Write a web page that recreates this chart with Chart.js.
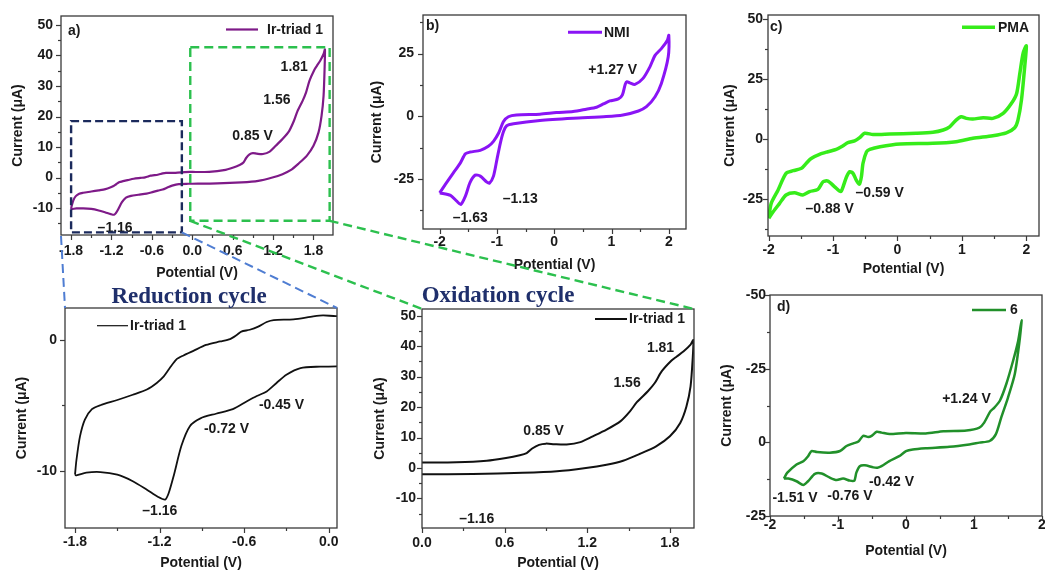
<!DOCTYPE html>
<html>
<head>
<meta charset="utf-8">
<script src="https://cdn.jsdelivr.net/npm/chart.js@4.4.1/dist/chart.umd.min.js"></script>
<style>
  html, body { margin: 0; padding: 0; background: #ffffff; overflow: hidden; width: 1045px; height: 570px; }
  canvas.panel { position: absolute; }
  #overlay { position: absolute; left: 0; top: 0; pointer-events: none; }
</style>
</head>
<body>
<canvas id="overlay" width="1045" height="570"></canvas>
<script>
const SANS = '"Liberation Sans", Arial, Helvetica, sans-serif';
const SERIF = '"Liberation Serif", "Times New Roman", serif';
const INK = '#1a1a1a';

// ---- Ir-triad 1: one full cyclic sweep (anodic branch, then cathodic return) ----
const irPotential = [
  -1.80, -1.79, -1.765, -1.73, -1.68, -1.62, -1.50, -1.39, -1.29, -1.22, -1.17, -1.13, -1.08, -1.03,
  -0.96, -0.87, -0.77, -0.70, -0.65, -0.62, -0.56, -0.50, -0.44, -0.39, -0.25, -0.11, -0.04, 0.05,
  0.25, 0.47, 0.61, 0.71, 0.76, 0.80, 0.85, 0.90, 0.96, 1.05, 1.15, 1.24, 1.34, 1.44, 1.51, 1.56,
  1.64, 1.69, 1.74, 1.81, 1.85, 1.90, 1.95, 1.97,
  1.965, 1.95, 1.92, 1.875, 1.80, 1.70, 1.58, 1.46, 1.34, 1.19, 0.98, 0.73, 0.37, 0.00, -0.06,
  -0.20, -0.30, -0.37, -0.44, -0.51, -0.58, -0.68, -0.80, -0.91, -0.985, -1.045, -1.10, -1.135,
  -1.16, -1.21, -1.29, -1.39, -1.50, -1.62, -1.72, -1.79, -1.80
];
const irCurrent = [
  -10.3, -9.2, -7.4, -6.1, -5.3, -5.0, -4.6, -4.2, -3.8, -3.3, -2.8, -2.2, -1.5, -1.2,
  -0.85, -0.4, -0.13, 0.05, 0.38, 0.62, 0.76, 1.0, 1.35, 1.5, 1.55, 1.78, 1.86, 1.8,
  1.86, 2.4, 3.3, 4.2, 4.9, 6.4, 7.6, 8.0, 7.8, 7.7, 8.5, 10.4, 12.6, 15.3, 18.6, 21.6,
  25.2, 27.9, 31.7, 35.2, 36.6, 38.3, 40.5, 42.0,
  35.6, 26.8, 20.2, 14.8, 10.4, 7.1, 4.6, 2.4, 1.1, 0.0, -1.1, -1.6, -1.95, -2.05, -2.05,
  -2.16, -2.67, -3.3, -3.95, -4.3, -4.7, -5.3, -5.65, -6.0, -6.6, -8.1, -10.4, -11.7,
  -12.2, -12.0, -11.45, -10.8, -10.3, -10.1, -10.15, -10.35, -10.3
];

// ---- NMI ----
const nmiPotential = [
  -2.00, -1.99, -1.90, -1.76, -1.64, -1.55, -1.47, -1.29, -1.15, -1.06, -0.97, -0.885, -0.80, -0.66,
  -0.25, 0.04, 0.33, 0.56, 0.74, 0.86, 0.97, 1.12, 1.19, 1.24, 1.27, 1.32, 1.41, 1.55, 1.67, 1.76,
  1.87, 1.975, 2.00,
  1.99, 1.87, 1.76, 1.61, 1.47, 1.20, 0.91, 0.33, -0.25, -0.71, -0.83, -0.885, -0.94, -1.00, -1.06,
  -1.13, -1.175, -1.29, -1.38, -1.47, -1.55, -1.63, -1.70, -1.81, -1.99, -2.00
];
const nmiCurrent = [
  -30.6, -30.3, -27.2, -22.6, -18.7, -15.0, -14.3, -13.6, -12.0, -10.0, -6.7, -2.1, -0.2, 0.5,
  0.8, 1.45, 1.85, 2.8, 3.6, 4.9, 6.1, 6.9, 8.5, 12.8, 13.8, 13.3, 12.7, 15.1, 19.7, 24.3,
  27.0, 30.3, 32.3,
  23.7, 13.1, 7.8, 3.8, 2.1, 0.5, -0.13, -0.8, -1.7, -3.0, -3.8, -6.1, -10.7, -17.3, -23.9,
  -26.7, -26.3, -23.9, -23.5, -26.5, -31.9, -35.2, -33.9, -31.6, -30.6, -30.6
];

// ---- PMA ----
const pmaPotential = [
  -2.00, -1.96, -1.855, -1.73, -1.62, -1.49, -1.415, -1.34, -1.21, -1.08, -0.95, -0.85, -0.77, -0.665,
  -0.587, -0.51, -0.38, -0.12, 0.29, 0.55, 0.71, 0.81, 0.91, 0.99, 1.07, 1.17, 1.33, 1.48, 1.64, 1.77,
  1.85, 1.90, 1.95, 2.00,
  1.975, 1.925, 1.87, 1.82, 1.69, 1.48, 1.17, 0.91, 0.55, 0.04, -0.27, -0.43, -0.48, -0.535, -0.56,
  -0.59, -0.64, -0.69, -0.74, -0.79, -0.845, -0.88, -0.975, -1.08, -1.155, -1.235, -1.365, -1.47,
  -1.60, -1.73, -1.83, -1.93, -2.00
];
const pmaCurrent = [
  -33.0, -26.8, -21.3, -14.3, -13.2, -12.2, -10.1, -8.1, -6.4, -5.3, -4.3, -2.9, -1.5, -0.8,
  0.55, 2.4, 1.9, 2.1, 2.4, 2.8, 3.75, 5.1, 7.9, 9.3, 8.6, 8.3, 8.9, 8.6, 10.7, 14.9,
  19.0, 27.4, 35.7, 38.8,
  30.1, 16.3, 7.9, 4.7, 2.6, 1.4, 0.3, -1.1, -1.8, -2.1, -3.2, -4.3, -5.3, -10.1, -15.7,
  -18.8, -17.1, -14.3, -13.6, -15.7, -19.9, -21.9, -19.9, -17.5, -17.8, -21.0, -21.9, -23.3,
  -22.4, -23.3, -26.8, -30.3, -33.0
];

// ---- compound 6 ----
const cpd6Potential = [
  -1.795, -1.745, -1.61, -1.51, -1.44, -1.39, -1.31, -1.12, -0.97, -0.875, -0.775, -0.70, -0.63, -0.555,
  -0.505, -0.43, -0.36, -0.24, 0.00, 0.29, 0.55, 0.89, 1.08, 1.15, 1.24, 1.30, 1.38, 1.475, 1.575,
  1.65, 1.70,
  1.67, 1.60, 1.50, 1.40, 1.32, 1.23, 1.08, 0.93, 0.64, 0.29, 0.10, 0.00, -0.10, -0.245, -0.36,
  -0.42, -0.48, -0.605, -0.68, -0.73, -0.76, -0.825, -0.925, -1.02, -1.12, -1.24, -1.34, -1.44,
  -1.51, -1.61, -1.73, -1.795
];
const cpd6Current = [
  -12.3, -10.3, -7.5, -6.4, -4.7, -2.95, -3.3, -3.5, -2.95, -1.25, -0.35, 0.25, 2.2, 1.8,
  2.2, 3.6, 3.3, 2.8, 3.2, 3.0, 3.75, 4.0, 5.0, 6.7, 10.5, 11.8, 14.1, 19.8, 27.7,
  34.5, 41.4,
  34.5, 23.2, 15.2, 8.4, 2.7, 0.45, -0.1, -0.7, -1.5, -2.0, -2.4, -3.0, -4.7, -6.4, -8.1,
  -8.6, -8.5, -7.8, -8.1, -10.3, -13.0, -13.0, -12.3, -12.8, -12.0, -10.6, -10.7, -13.2,
  -14.5, -13.2, -12.3, -12.3
];

// ---- axis ticks and their labels ----
const aXTicks = [-1.8, -1.2, -0.6, 0, 0.6, 1.2, 1.8];
const aXLabels = ['-1.8', '-1.2', '-0.6', '0.0', '0.6', '1.2', '1.8'];
const aYTicks = [50, 40, 30, 20, 10, 0, -10];
const aYLabels = ['50', '40', '30', '20', '10', '0', '-10'];
const wideXTicks = [-2, -1, 0, 1, 2];
const wideXLabels = ['-2', '-1', '0', '1', '2'];
const bYTicks = [25, 0, -25];
const bYLabels = ['25', '0', '-25'];
const cYTicks = [50, 25, 0, -25];
const cYLabels = ['50', '25', '0', '-25'];
const dYTicks = [50, 25, 0, -25];
const dYLabels = ['-50', '-25', '0', '-25'];
const redXTicks = [-1.8, -1.2, -0.6, 0];
const redXLabels = ['-1.8', '-1.2', '-0.6', '0.0'];
const redYTicks = [0, -10];
const redYLabels = ['0', '-10'];
const oxXTicks = [0, 0.6, 1.2, 1.8];
const oxXLabels = ['0.0', '0.6', '1.2', '1.8'];
const oxYTicks = [50, 40, 30, 20, 10, 0, -10];
const oxYLabels = ['50', '40', '30', '20', '10', '0', '-10'];

const toPoints = (xs, ys) => xs.map((x, i) => ({ x, y: ys[i] }));

// frame, tick marks, panel letter, legend and peak labels for one panel
function makeDecor(spec) {
  return {
    id: 'panelDecor',
    afterDatasetsDraw(chart) {
      const { ctx, chartArea: a, scales: { x, y } } = chart;
      ctx.save();
      ctx.strokeStyle = '#3a3a3a';
      ctx.lineWidth = 1.3;
      ctx.strokeRect(a.left, a.top, a.right - a.left, a.bottom - a.top);

      const drawX = (v, len) => {
        const p = Math.round(x.getPixelForValue(v)) + 0.5;
        ctx.beginPath(); ctx.moveTo(p, a.bottom); ctx.lineTo(p, a.bottom + len); ctx.stroke();
      };
      const drawY = (v, len) => {
        const p = Math.round(y.getPixelForValue(v)) + 0.5;
        ctx.beginPath(); ctx.moveTo(a.left, p); ctx.lineTo(a.left - len, p); ctx.stroke();
      };
      const minors = (step, majors, lo, hi) => {
        const out = [];
        for (let k = Math.ceil(lo / step); k * step <= hi + 1e-9; k++) {
          const v = +(k * step).toFixed(4);
          if (!majors.some(m => Math.abs(m - v) < 1e-6)) out.push(v);
        }
        return out;
      };
      ctx.lineWidth = 1.2;
      spec.xTicks.forEach(v => drawX(v, 5));
      spec.yTicks.forEach(v => drawY(v, 5));
      minors(spec.xMinor, spec.xTicks, x.min, x.max).forEach(v => drawX(v, 3));
      minors(spec.yMinor, spec.yTicks, y.min, y.max).forEach(v => drawY(v, 3));

      ctx.fillStyle = INK;
      ctx.font = 'bold 14px ' + SANS;
      ctx.textBaseline = 'middle';
      if (spec.letter) {
        ctx.textAlign = 'left';
        ctx.fillText(spec.letter.text, a.left + spec.letter.dx, a.top + spec.letter.dy);
      }
      const lg = spec.legend;
      const lx0 = lg.fromRight ? a.right - lg.x0 : a.left + lg.x0;
      const lx1 = lg.fromRight ? a.right - lg.x1 : a.left + lg.x1;
      const tx = lg.fromRight ? a.right - lg.tx : a.left + lg.tx;
      const ly = a.top + lg.dy;
      ctx.strokeStyle = spec.color;
      ctx.lineWidth = lg.width;
      ctx.beginPath(); ctx.moveTo(lx0, ly); ctx.lineTo(lx1, ly); ctx.stroke();
      ctx.textAlign = 'left';
      ctx.fillText(spec.series, tx, ly + 0.5);

      ctx.textAlign = 'center';
      spec.peaks.forEach(p => {
        ctx.fillText(p.text, x.getPixelForValue(p.v), y.getPixelForValue(p.i));
      });
      ctx.restore();
    }
  };
}

const charts = {};

function makePanel(key, spec) {
  const [L, T, R, B] = spec.box;
  const padT = 12, padR = 14;
  const cv = document.createElement('canvas');
  cv.className = 'panel';
  const left = L - spec.yw, top = T - padT;
  cv.width = R - L + spec.yw + padR;
  cv.height = B - T + padT + spec.xh;
  cv.style.left = left + 'px';
  cv.style.top = top + 'px';
  document.body.insertBefore(cv, document.getElementById('overlay'));

  const tickFont = { family: SANS, size: 14, weight: 'bold' };
  const chart = new Chart(cv, {
    type: 'scatter',
    data: {
      datasets: [{
        label: spec.series,
        data: toPoints(spec.xs, spec.ys),
        showLine: true,
        borderColor: spec.color,
        borderWidth: spec.lineWidth,
        pointRadius: 0,
        tension: 0.25,
        fill: false
      }]
    },
    options: {
      responsive: false,
      animation: false,
      devicePixelRatio: 1,
      layout: { padding: { top: padT, right: padR, left: 0, bottom: 0 } },
      plugins: { legend: { display: false }, tooltip: { enabled: false } },
      scales: {
        x: {
          type: 'linear', position: 'bottom',
          min: spec.xRange[0], max: spec.xRange[1],
          grid: { display: false, drawTicks: false },
          border: { display: false },
          ticks: { font: tickFont, color: INK, padding: spec.xPad, autoSkip: false, maxRotation: 0,
                   callback: (v, i) => spec.xLabels[i] },
          afterBuildTicks: s => { s.ticks = spec.xTicks.map(v => ({ value: v })); },
          afterFit: s => { s.height = spec.xh; s.paddingLeft = 0; s.paddingRight = 0; },
          title: { display: true, text: 'Potential (V)', color: INK,
                   font: { family: SANS, size: 14, weight: 'bold' }, padding: { top: 0, bottom: 0 } }
        },
        y: {
          type: 'linear', position: 'left',
          min: spec.yRange[0], max: spec.yRange[1],
          grid: { display: false, drawTicks: false },
          border: { display: false },
          ticks: { font: tickFont, color: INK, padding: spec.yPad, autoSkip: false,
                   callback: (v, i) => spec.yLabels[i] },
          afterBuildTicks: s => { s.ticks = spec.yTicks.map(v => ({ value: v })); },
          afterFit: s => { s.width = spec.yw; s.paddingTop = 0; s.paddingBottom = 0; },
          title: { display: true, text: 'Current (\u03bcA)', color: INK,
                   font: { family: SANS, size: 14, weight: 'bold' }, padding: { top: 0, bottom: 0 } }
        }
      }
    },
    plugins: [makeDecor(spec)]
  });
  charts[key] = { chart, left, top };
}

makePanel('a', {
  box: [61, 16, 333, 235], yw: 51, xh: 47, xPad: 8, yPad: 8,
  xRange: [-1.95, 2.09], yRange: [-18.85, 52.95],
  xTicks: aXTicks, xLabels: aXLabels, yTicks: aYTicks, yLabels: aYLabels, xMinor: 0.3, yMinor: 5,
  xs: irPotential, ys: irCurrent, color: '#7e1a88', lineWidth: 2.2, series: 'Ir-triad 1',
  letter: { text: 'a)', dx: 7, dy: 15 },
  legend: { fromRight: true, x0: 107, x1: 75, tx: 66, dy: 13.5, width: 2.2 },
  peaks: [
    { text: '1.81', v: 1.514, i: 36.3 },
    { text: '1.56', v: 1.256, i: 25.4 },
    { text: '0.85 V', v: 0.894, i: 13.4 },
    { text: '\u20131.16', v: -1.146, i: -16.7 }
  ]
});

makePanel('b', {
  box: [423, 15, 686, 229], yw: 54, xh: 45, xPad: 5, yPad: 9,
  xRange: [-2.29, 2.30], yRange: [-45.0, 40.4],
  xTicks: wideXTicks, xLabels: wideXLabels, yTicks: bYTicks, yLabels: bYLabels, xMinor: 0.5, yMinor: 12.5,
  xs: nmiPotential, ys: nmiCurrent, color: '#8a14f5', lineWidth: 3, series: 'NMI',
  letter: { text: 'b)', dx: 3, dy: 11 },
  legend: { fromRight: true, x0: 118, x1: 84, tx: 82, dy: 17.3, width: 3 },
  peaks: [
    { text: '+1.27 V', v: 1.02, i: 18.4 },
    { text: '\u20131.13', v: -0.594, i: -33.1 },
    { text: '\u20131.63', v: -1.465, i: -40.6 }
  ]
});

makePanel('c', {
  box: [768, 15, 1039, 236], yw: 46, xh: 42, xPad: 6, yPad: 5,
  xRange: [-2.01, 2.197], yRange: [-40.4, 51.67],
  xTicks: wideXTicks, xLabels: wideXLabels, yTicks: cYTicks, yLabels: cYLabels, xMinor: 0.5, yMinor: 12.5,
  xs: pmaPotential, ys: pmaCurrent, color: '#36ec1a', lineWidth: 3.5, series: 'PMA',
  letter: { text: 'c)', dx: 2, dy: 12 },
  legend: { fromRight: true, x0: 77, x1: 44, tx: 41, dy: 12.3, width: 3.5 },
  peaks: [
    { text: '\u20130.59 V', v: -0.276, i: -22.4 },
    { text: '\u20130.88 V', v: -1.053, i: -29.3 }
  ]
});

makePanel('d', {
  box: [770, 295, 1042, 516], yw: 51, xh: 44, xPad: 1, yPad: 4,
  xRange: [-2.0, 2.0], yRange: [-25.0, 50.0],
  xTicks: wideXTicks, xLabels: wideXLabels, yTicks: dYTicks, yLabels: dYLabels, xMinor: 0.5, yMinor: 12.5,
  xs: cpd6Potential, ys: cpd6Current, color: '#21902a', lineWidth: 2.5, series: '6',
  letter: { text: 'd)', dx: 7, dy: 12 },
  legend: { fromRight: true, x0: 70, x1: 36, tx: 32, dy: 15, width: 2.5 },
  peaks: [
    { text: '+1.24 V', v: 0.889, i: 14.7 },
    { text: '-0.42 V', v: -0.213, i: -13.5 },
    { text: '-0.76 V', v: -0.825, i: -18.3 },
    { text: '-1.51 V', v: -1.633, i: -18.9 }
  ]
});

makePanel('red', {
  box: [65, 308, 337, 528], yw: 51, xh: 44, xPad: 6, yPad: 8,
  xRange: [-1.871, 0.059], yRange: [-14.37, 2.42],
  xTicks: redXTicks, xLabels: redXLabels, yTicks: redYTicks, yLabels: redYLabels, xMinor: 0.3, yMinor: 5,
  xs: irPotential, ys: irCurrent, color: '#111111', lineWidth: 1.8, series: 'Ir-triad 1',
  letter: null,
  legend: { fromRight: false, x0: 32, x1: 63, tx: 65, dy: 17.7, width: 1.2 },
  peaks: [
    { text: '-0.45 V', v: -0.335, i: -4.96 },
    { text: '-0.72 V', v: -0.725, i: -6.8 },
    { text: '\u20131.16', v: -1.198, i: -13.1 }
  ]
});

makePanel('ox', {
  box: [422, 309, 694, 528], yw: 50, xh: 44, xPad: 7, yPad: 6,
  xRange: [0.0, 1.975], yRange: [-19.7, 52.2],
  xTicks: oxXTicks, xLabels: oxXLabels, yTicks: oxYTicks, yLabels: oxYLabels, xMinor: 0.3, yMinor: 5,
  xs: irPotential, ys: irCurrent, color: '#111111', lineWidth: 2, series: 'Ir-triad 1',
  letter: null,
  legend: { fromRight: true, x0: 99, x1: 67, tx: 65, dy: 10, width: 2 },
  peaks: [
    { text: '1.81', v: 1.732, i: 39.4 },
    { text: '1.56', v: 1.489, i: 27.7 },
    { text: '0.85 V', v: 0.883, i: 12.0 },
    { text: '\u20131.16', v: 0.397, i: -16.7 }
  ]
});

// ---- zoom frames in panel a, connector lines and section titles ----
(function drawOverlay() {
  const ctx = document.getElementById('overlay').getContext('2d');
  const page = (key, v, i) => {
    const { chart, left, top } = charts[key];
    return [left + chart.scales.x.getPixelForValue(v), top + chart.scales.y.getPixelForValue(i)];
  };
  const area = key => {
    const { chart, left, top } = charts[key];
    const a = chart.chartArea;
    return { l: left + a.left, t: top + a.top, r: left + a.right, b: top + a.bottom };
  };
  const line = (p, q, color, width, dash) => {
    ctx.save();
    ctx.strokeStyle = color; ctx.lineWidth = width; ctx.setLineDash(dash);
    ctx.beginPath(); ctx.moveTo(p[0], p[1]); ctx.lineTo(q[0], q[1]); ctx.stroke();
    ctx.restore();
  };
  const rect = (p, q, color, width, dash) => {
    ctx.save();
    ctx.strokeStyle = color; ctx.lineWidth = width; ctx.setLineDash(dash);
    ctx.strokeRect(p[0], p[1], q[0] - p[0], q[1] - p[1]);
    ctx.restore();
  };

  const navyTL = page('a', -1.8, 18.5), navyBR = page('a', -0.155, -18.0);
  const greenTL = page('a', -0.03, 42.7), greenBR = page('a', 2.04, -14.2);
  const A = area('a'), RED = area('red'), OX = area('ox');

  const NAVY = '#1b2a5c', GREEN = '#2cc04e', BLUE = '#4f7dd2';
  rect(navyTL, navyBR, NAVY, 2.4, [8, 4]);
  rect(greenTL, greenBR, GREEN, 2.4, [9, 5]);

  line([A.l, A.b + 1], [RED.l, RED.t], BLUE, 2, [9, 5]);
  line([navyBR[0], navyBR[1]], [RED.r, RED.t], BLUE, 2, [9, 5]);
  line([greenTL[0], greenBR[1]], [OX.l, OX.t], GREEN, 2.4, [9, 5]);
  line([greenBR[0], greenBR[1]], [OX.r, OX.t], GREEN, 2.4, [9, 5]);

  ctx.fillStyle = '#1f2f6b';
  ctx.font = 'bold 23px ' + SERIF;
  ctx.textAlign = 'center';
  ctx.textBaseline = 'alphabetic';
  ctx.fillText('Reduction cycle', 189, 302.5);
  ctx.fillText('Oxidation cycle', 498, 301.5);
})();
</script>
</body>
</html>
